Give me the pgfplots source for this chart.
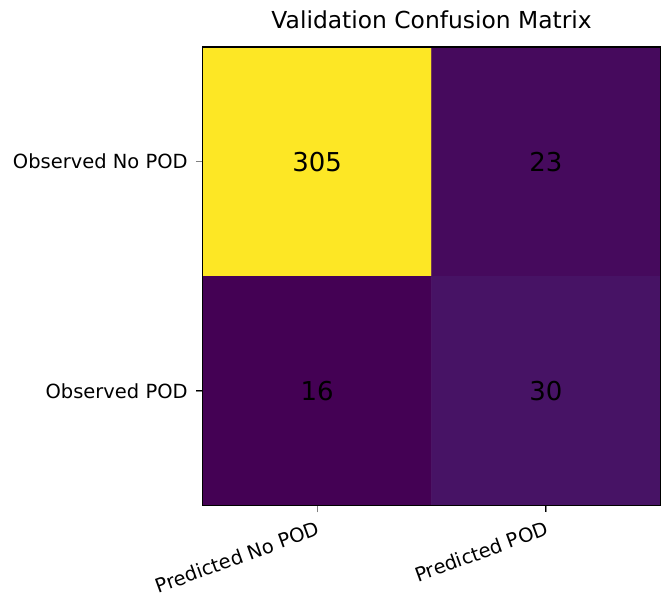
\documentclass[border=0pt]{standalone}
\usepackage{pgfplots}
\pgfplotsset{compat=1.18}
\usepackage{fontspec}
\setmainfont{DejaVu Sans}
\begin{document}
\begin{tikzpicture}
\begin{axis}[
  scale only axis,
  width=458pt, height=459pt,
  xmin=-0.5, xmax=1.5, ymin=-0.5, ymax=1.5,
  y dir=reverse,
  axis on top,
  clip=false,
  colormap/viridis,
  point meta min=16, point meta max=305,
  xtick={0,1}, ytick={0,1},
  xticklabels={Predicted No POD, Predicted POD},
  yticklabels={Observed No POD, Observed POD},
  xtick pos=bottom, ytick pos=left,
  tick align=outside,
  major tick length=7pt,
  axis line style={line width=1.3pt},
  ticklabel style={font=\fontsize{19.5}{23}\selectfont},
  yticklabel style={anchor=east, inner sep=0pt, xshift=-8pt},
  xticklabel style={rotate=20, anchor=north east, inner sep=0pt, yshift=-7pt, xshift=-4pt},
  title={Validation Confusion Matrix},
  title style={at={(0.5,1)}, anchor=base, inner sep=0pt, yshift=12pt, font=\fontsize{23.4}{28}\selectfont},
]
\addplot[matrix plot*, point meta=explicit, mesh/cols=2, mesh/rows=2] table[x=x, y=y, meta=v] {
x y v
0 0 305
1 0 23
0 1 16
1 1 30
};
\addplot[draw=none, mark=none, nodes near coords, point meta=explicit symbolic,
  nodes near coords style={anchor=center, black, font=\fontsize{26}{30}\selectfont}]
  table[x=x, y=y, meta=v] {
x y v
0 0 305
1 0 23
0 1 16
1 1 30
};
\draw[line width=1.2pt] (axis cs:0,1.5) -- ([yshift=-7pt]axis cs:0,1.5);
\draw[line width=1.2pt] (axis cs:1,1.5) -- ([yshift=-7pt]axis cs:1,1.5);
\draw[line width=1.2pt] (axis cs:-0.5,0) -- ([xshift=-7pt]axis cs:-0.5,0);
\draw[line width=1.2pt] (axis cs:-0.5,1) -- ([xshift=-7pt]axis cs:-0.5,1);
\end{axis}
\path (-203pt,-90pt) rectangle (458pt,506pt);
\end{tikzpicture}
\end{document}
